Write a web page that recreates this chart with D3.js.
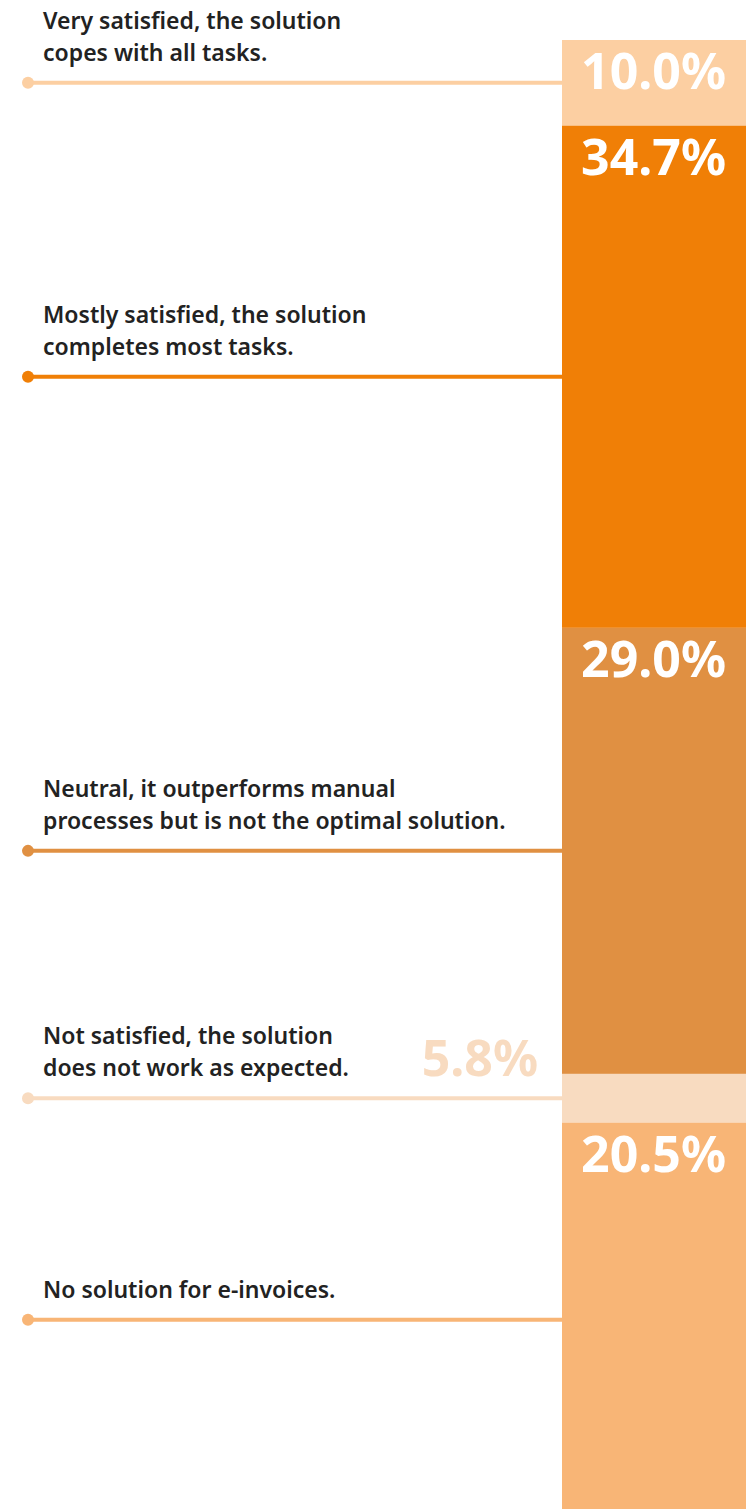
<!DOCTYPE html>
<html>
<head>
<meta charset="utf-8">
<script src="https://cdn.jsdelivr.net/npm/d3@7"></script>
<style>
  body { margin: 0; background: #fff; }
  svg { display: block; }
</style>
</head>
<body>
<svg id="chart"></svg>
<script>
// ---- Data ----
const answers = [
  ["Very satisfied, the solution", "copes with all tasks."],
  ["Mostly satisfied, the solution", "completes most tasks."],
  ["Neutral, it outperforms manual", "processes but is not the optimal solution."],
  ["Not satisfied, the solution", "does not work as expected."],
  ["No solution for e-invoices."]
];
const percentLabels = [10.0, 34.7, 29.0, 5.8, 20.5];
// share of the bar length each segment takes in the picture
const segmentShare = [5.8, 34.0, 30.2, 3.3, 26.7];
const colors = ["#fccfa2", "#f07f06", "#e09042", "#f8dbc0", "#f8b576"];

// ---- Layout ----
const width = 750, height = 1509;
const barLeft = 562, barRight = 746;
const lineStart = 28, textX = 43;

const svg = d3.select("#chart").attr("width", width).attr("height", height);

const y = d3.scaleLinear().domain([0, d3.sum(segmentShare)]).range([40, 1517]);

let acc = 0;
const rows = segmentShare.map((s, i) => {
  const r = { i, y0: acc, y1: acc + s };
  acc += s;
  return r;
});

const g = svg.selectAll("g.row").data(rows).join("g").attr("class", "row");

g.append("rect")
  .attr("x", barLeft)
  .attr("width", barRight - barLeft)
  .attr("y", d => y(d.y0))
  .attr("height", d => y(d.y1) - y(d.y0))
  .attr("fill", d => colors[d.i]);

const mid = d => (y(d.y0) + y(d.y1)) / 2;

g.append("line")
  .attr("x1", lineStart).attr("x2", barLeft)
  .attr("y1", mid).attr("y2", mid)
  .attr("stroke", d => colors[d.i])
  .attr("stroke-width", 4);

g.append("circle")
  .attr("cx", lineStart).attr("cy", mid)
  .attr("r", 6)
  .attr("fill", d => colors[d.i]);

// ---- Answer text ----
g.each(function (d) {
  const lines = answers[d.i];
  const t = d3.select(this).append("text")
    .attr("x", textX)
    .attr("font-family", "'Noto Sans', sans-serif")
    .attr("font-weight", 600)
    .attr("font-size", 23)
    .attr("fill", "#222");
  lines.forEach((ln, k) => {
    t.append("tspan")
      .attr("x", textX)
      .attr("y", mid(d) - 22 - (lines.length - 1 - k) * 32)
      .text(ln);
  });
});

// ---- Percent labels ----
g.append("text")
  .attr("x", d => segmentShare[d.i] < 5 ? 538 : 726)
  .attr("y", d => segmentShare[d.i] < 5 ? mid(d) - 22 : y(d.y0) + 49)
  .attr("text-anchor", "end")
  .attr("font-family", "'Noto Sans', sans-serif")
  .attr("font-weight", 700)
  .attr("font-size", 50)
  .attr("fill", d => segmentShare[d.i] < 5 ? colors[d.i] : "#fff")
  .text(d => percentLabels[d.i].toFixed(1) + "%");
</script>
</body>
</html>
